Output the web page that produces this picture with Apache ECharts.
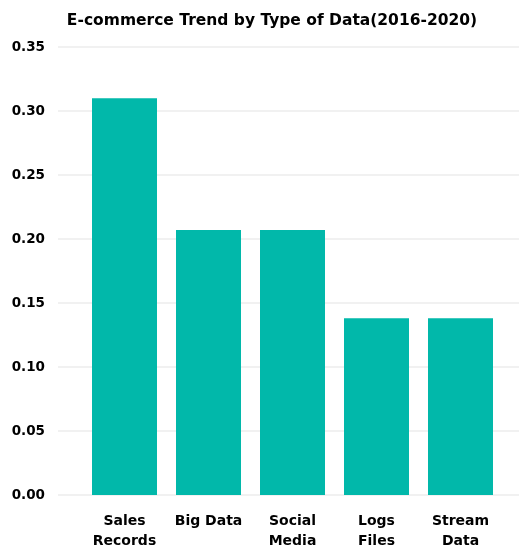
<!DOCTYPE html>
<html><head><meta charset="utf-8">
<script src="https://cdn.jsdelivr.net/npm/echarts@6/dist/echarts.min.js"></script>
<style>html,body{margin:0;padding:0;background:#fff}#c{width:519px;height:547px}</style>
</head><body><div id="c"></div>
<script>
const title = 'E-commerce Trend by Type of Data(2016-2020)';
const categories = ['Sales\nRecords', 'Big Data', 'Social\nMedia', 'Logs\nFiles', 'Stream\nData'];
const values = [0.310, 0.207, 0.207, 0.138, 0.138];
const yMin = 0, yMax = 0.35, yStep = 0.05;

const font = 'DejaVu Sans';
const chart = echarts.init(document.getElementById('c'), null, {renderer: 'canvas'});
chart.setOption({
  animation: false,
  title: {
    text: title, left: 267, textAlign: 'center', top: 8,
    textStyle: {fontFamily: font, fontWeight: 'bold', fontSize: 15.5, color: '#000'}
  },
  grid: [
    {left: 58, right: 0, top: 47, bottom: 52, outerBoundsMode: 'none', containLabel: false},
    {left: 82.5, right: 16.5, top: 47, bottom: 52, outerBoundsMode: 'none', containLabel: false}
  ],
  xAxis: [
    {type: 'category', gridIndex: 0, data: categories, show: false},
    {type: 'category', gridIndex: 1, data: categories,
     axisLine: {show: false}, axisTick: {show: false},
     axisLabel: {fontFamily: font, fontWeight: 'bold', fontSize: 14, color: '#000',
                 margin: 16, lineHeight: 20, interval: 0}}
  ],
  yAxis: [
    {type: 'value', gridIndex: 0, min: yMin, max: yMax, interval: yStep,
     axisLine: {show: false}, axisTick: {show: false},
     splitLine: {lineStyle: {color: '#ececec', width: 1.5}},
     axisLabel: {fontFamily: font, fontWeight: 'bold', fontSize: 13.5, color: '#000', margin: 13,
                 formatter: v => v.toFixed(2)}},
    {type: 'value', gridIndex: 1, min: yMin, max: yMax, interval: yStep, show: false,
     splitLine: {show: false}}
  ],
  series: [{
    type: 'bar', xAxisIndex: 1, yAxisIndex: 1, data: values,
    barWidth: 65, itemStyle: {color: '#01B8AA'}
  }]
});
</script></body></html>
